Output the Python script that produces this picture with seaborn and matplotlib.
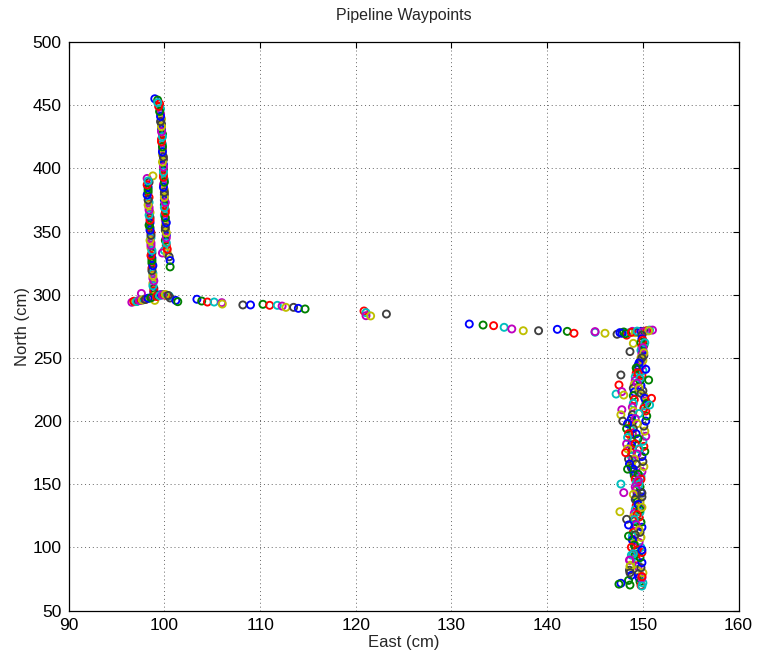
import matplotlib
matplotlib.use("Agg")
import matplotlib.pyplot as plt
import numpy as np
import pandas as pd
import seaborn as sns

# ---- waypoint data (East, North in cm), in the order they were logged ----
# upper-left leg, travelling down from the top
legA_east = [99.0, 99.3, 99.5, 99.6, 99.6, 99.7, 99.7, 99.7, 99.8, 99.7, 99.8, 99.8,
             99.8, 99.9, 99.9, 99.9, 99.9, 100.0, 99.9, 100.0, 100.0, 100.0, 100.0,
             100.1, 100.0, 100.1, 100.1, 100.1, 100.2, 100.1, 100.2, 100.0, 99.8,
             100.3, 100.5, 100.6, 100.6]
legA_north = [455, 454, 451, 447, 443, 439, 435, 431, 427, 423, 419, 415,
              411, 407, 403, 399, 395, 391, 387, 383, 379, 375, 371,
              367, 363, 359, 355, 351, 347, 343, 339, 335, 333,
              333, 330, 327, 322]

# same leg, travelling back up
legA2_east = [100.3, 100.2, 100.2, 100.2, 100.1, 100.2, 100.1, 100.1, 100.0, 100.1,
              100.0, 100.0, 99.9, 100.0, 99.9, 99.9, 99.9, 99.8, 99.9, 99.8,
              99.8, 99.7, 99.8, 99.7, 99.7, 99.6, 99.6, 99.5, 99.4, 99.3]
legA2_north = [336, 341, 345, 349, 353, 357, 361, 365, 369, 373,
               377, 381, 385, 389, 393, 397, 401, 405, 409, 413,
               417, 421, 425, 429, 433, 437, 441, 445, 449, 452]

# second upper-left leg
legB_east = [98.2, 98.8, 98.4, 98.3, 98.3, 98.4, 98.4, 98.4, 98.5, 98.5, 98.5, 98.5,
             98.6, 98.6, 98.6, 98.6, 98.7, 98.7, 98.7, 98.7, 98.8, 98.8, 98.8, 98.9,
             98.9, 99.0]
legB_north = [392, 394, 389, 385, 381, 377, 373, 369, 365, 361, 357, 353,
              349, 345, 341, 337, 333, 329, 325, 321, 317, 313, 309, 305,
              302, 300]

legB2_east = [98.9, 98.8, 98.9, 98.8, 98.7, 98.8, 98.7, 98.6, 98.7, 98.6, 98.5, 98.6,
              98.5, 98.4, 98.5, 98.4, 98.4, 98.3, 98.3, 98.2, 98.3, 98.2, 98.3]
legB2_north = [303, 307, 311, 315, 319, 323, 327, 331, 335, 339, 343, 347,
               351, 355, 359, 363, 367, 371, 375, 379, 383, 387, 390]

# junction at the bottom of the left legs
legC_east = [96.6, 96.9, 97.2, 97.5, 97.8, 98.1, 98.4, 98.7, 99.0, 99.3, 99.6, 99.9,
             100.2, 100.5, 97.6, 99.0, 100.6, 101.2, 101.4,
             96.8, 97.1, 97.4, 97.7, 98.0, 98.3, 98.6, 99.2, 99.5, 99.8, 100.1, 100.4]
legC_north = [294, 294.5, 295, 295.5, 296, 296.5, 297, 298, 299, 299.5, 300, 300,
              299.5, 299, 301, 295.5, 297.4, 295.5, 294.5,
              294.8, 294.6, 295.4, 295.8, 296.2, 297.2, 297.6, 298.6, 299.2, 299.8,
              300.2, 299.4]

# sparse crossing towards the east
legD_east = [103.4, 103.9, 104.5, 105.2, 106.0, 106.05, 108.2, 109.0, 110.3, 111.0,
             111.8, 112.3, 112.7, 113.5, 114.0, 114.7, 120.86, 121.07, 121.07, 121.55,
             123.2, 131.86, 133.3, 134.4, 135.5, 136.3, 137.5, 139.1, 141.06, 142.1,
             142.8, 145.0, 145.0, 146.04]
legD_north = [296.4, 295.0, 294.2, 294.2, 293.7, 292.6, 291.9, 291.9, 292.4, 291.6,
              291.6, 291.0, 290.0, 290.0, 289.2, 288.7, 287.1, 285.8, 283.4, 283.2,
              284.7, 276.8, 276.0, 275.5, 274.2, 272.9, 271.5, 271.5, 272.6, 271.0,
              269.5, 270.3, 270.8, 269.5]

# head of the right leg
legE_east = [147.3, 147.6, 148.0, 148.3, 148.6, 148.9, 149.2, 149.5, 149.8, 150.1,
             150.4, 150.7, 151.0, 149.0, 148.65,
             147.8, 148.2, 148.8, 149.4, 150.0, 150.6]
legE_north = [268.7, 270, 270.5, 268, 270, 271, 270, 270.5, 271, 271,
              271.5, 272, 272, 261.5, 255,
              269.5, 269.2, 270.2, 271.2, 270.6, 271.4]

# right leg, going south
legF_east = [149.9, 149.9, 149.8, 149.9, 149.8, 149.9, 149.8, 149.7, 149.5, 149.4,
             149.3, 149.2, 149.2, 149.1, 149.0, 149.1, 149.0, 149.1, 149.0, 148.9,
             149.0, 148.9, 148.8, 148.9, 148.8, 148.8, 148.9, 148.8, 148.9, 148.8,
             148.9, 148.8, 148.8, 148.9, 148.8, 148.8, 149.0, 149.1, 149.2, 149.3,
             149.2, 149.3, 149.4, 149.3, 149.4, 149.3, 149.2, 149.1, 149.0, 149.1,
             149.2, 149.1, 149.0, 148.9, 149.0, 149.1, 149.2, 149.3, 149.2, 149.3,
             149.4, 149.5, 149.4, 149.5, 149.6, 149.7, 149.8]
legF_north = [268, 265, 262, 259, 256, 253, 250, 247, 244, 241,
              238, 235, 232, 229, 226, 223, 220, 217, 214, 211,
              208, 205, 202, 199, 196, 193, 190, 187, 184, 181,
              178, 175, 172, 169, 166, 163, 160, 157, 154, 151,
              148, 145, 142, 139, 136, 133, 130, 127, 124, 121,
              118, 115, 112, 109, 106, 103, 100, 97, 94, 91,
              88, 85, 82, 79, 76, 73, 70]

# right leg, coming back north
legG_east = [150.0, 149.9, 150.0, 149.8, 149.9, 149.7, 149.9, 149.8, 149.6, 149.8,
             149.7, 149.9, 149.8, 149.6, 149.7, 149.8, 149.7, 149.9, 149.8, 149.7,
             149.6, 149.8, 149.9, 150.1, 150.0, 149.9, 150.2, 150.1, 150.0, 150.3,
             150.2, 150.1, 150.3, 150.4, 150.3, 150.2, 150.3, 150.1, 150.0, 149.8,
             149.7, 149.9, 150.0, 149.9, 150.0, 150.1, 150.0, 150.1, 150.0]
legG_north = [72, 76, 80, 84, 88, 92, 96, 100, 104, 108,
              112, 116, 120, 124, 128, 132, 136, 140, 144, 148,
              152, 156, 160, 164, 168, 172, 176, 180, 184, 188,
              192, 196, 200, 204, 208, 212, 216, 220, 224, 228,
              232, 236, 240, 244, 248, 252, 256, 260, 264]

# right leg, third pass south
legF2_east = [150.2, 150.0, 150.1, 149.9, 149.6, 149.3, 149.5, 149.7, 149.4, 149.6,
              149.8, 150.2, 150.4, 150.1, 149.6, 149.2, 149.4, 149.0, 149.3, 149.5,
              149.2, 149.6, 149.4, 149.1, 149.3, 149.0, 149.5, 149.8, 149.6, 149.3,
              149.0, 149.2, 149.5, 149.7, 149.4, 149.1, 149.3, 149.6, 149.2, 148.9,
              149.1, 149.4, 148.8, 148.6, 148.7, 148.6, 148.8, 148.5]
legF2_north = [262, 258, 254, 250, 246, 242, 238, 234, 230, 226,
               222, 218, 214, 210, 206, 202, 198, 194, 190, 186,
               182, 178, 174, 170, 166, 162, 158, 154, 150, 146,
               142, 138, 134, 130, 126, 122, 118, 114, 110, 106,
               102, 98, 94, 90, 86, 82, 78, 74]

# scattered fixes around the right leg
legH_east = [147.5, 147.2, 147.8, 148.0, 147.7, 150.3, 150.6, 150.9, 150.7, 147.8,
             147.7, 147.9, 148.4, 148.3, 148.5, 148.4, 148.3, 148.4, 148.5, 148.6,
             148.4, 148.2, 147.7, 148.0, 147.6, 148.3, 148.5, 148.5, 148.8, 149.0,
             148.65, 148.65, 148.65, 147.7, 148.65, 149.9, 149.9, 149.5, 149.9, 149.9,
             149.9, 147.5]
legH_north = [228.6, 221.4, 223.3, 220.6, 236.5, 241, 232.5, 218, 212.7, 209,
              205, 200, 198, 194, 190, 187, 182, 178, 170, 166,
              162, 175, 150.2, 143.4, 128.3, 122.3, 117.8, 109, 100.2, 95,
              90, 85, 80, 71.7, 70.3, 77, 69.5, 153, 131.8, 143,
              98, 71]

segments = [(legA_east, legA_north), (legA2_east, legA2_north),
            (legB_east, legB_north), (legB2_east, legB2_north),
            (legC_east, legC_north), (legD_east, legD_north),
            (legE_east, legE_north), (legF_east, legF_north),
            (legG_east, legG_north), (legF2_east, legF2_north),
            (legH_east, legH_north)]

east = np.concatenate([np.asarray(e, float) for e, _ in segments])
north = np.concatenate([np.asarray(n, float) for _, n in segments])

# classic MATLAB colour order, cycled point by point
matlab_colors = ["#0000FF", "#008000", "#FF0000", "#00BFBF", "#BF00BF", "#BFBF00", "#404040"]
df = pd.DataFrame({"East": east, "North": north,
                   "k": [i % len(matlab_colors) for i in range(len(east))]})

sns.set_style("white")
plt.rcParams["font.family"] = ["Liberation Sans", "DejaVu Sans"]

fig = plt.figure(figsize=(7.58, 6.58), dpi=100)
ax = fig.add_axes([0.0906, 0.0719, 0.8838, 0.8644])

sns.scatterplot(data=df, x="East", y="North", hue="k", palette=matlab_colors,
                marker="o", s=26, linewidth=1.35, legend=False, ax=ax)
pts = ax.collections[0]
pts.set_edgecolors(pts.get_facecolors())
pts.set_facecolors("none")

ax.set_xlim(90, 160)
ax.set_ylim(50, 500)
ax.set_xticks(np.arange(90, 161, 10))
ax.set_yticks(np.arange(50, 501, 50))
ax.grid(True, color="#666666", linestyle=(0, (1, 3)), linewidth=0.7)
ax.set_axisbelow(True)
ax.tick_params(direction="in", top=True, right=True, length=4, width=0.8,
               labelsize=12.5, pad=5, colors="black")
for sp in ax.spines.values():
    sp.set_color("black")
    sp.set_linewidth(0.9)

ax.set_xlabel("East (cm)", fontsize=12, labelpad=2)
ax.set_ylabel("North (cm)", fontsize=12, labelpad=2)
ax.set_title("Pipeline Waypoints", fontsize=11.5, pad=16)

fig.savefig("out.png", dpi=100, facecolor="white")
